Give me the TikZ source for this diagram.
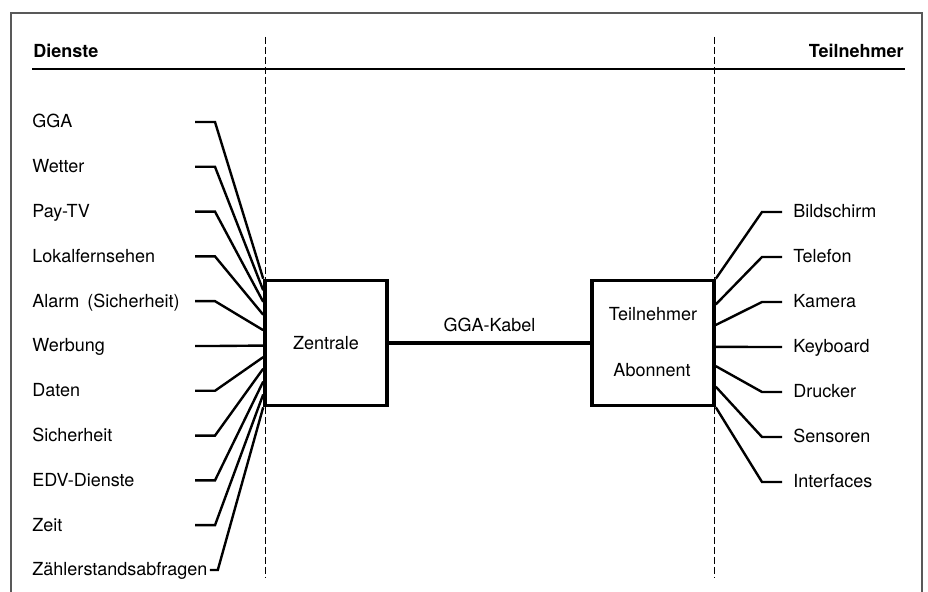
\documentclass[tikz,border=0pt]{standalone}
\usepackage{fontspec}
\setmainfont{TeX Gyre Heros}
\usetikzlibrary{calc}
\begin{document}
\begin{tikzpicture}[x=0.5pt,y=-0.5pt,
  lbl/.style={anchor=base west, inner sep=0pt, font=\fontsize{9pt}{10pt}\selectfont},
  hdr/.style={inner sep=0pt, font=\fontsize{9pt}{10pt}\selectfont\bfseries},
  conn/.style={line width=1.2pt, line join=miter},
  boxn/.style={draw, line width=1.8pt, minimum width=61pt, minimum height=62.5pt, inner sep=0pt,
    font=\fontsize{9pt}{10pt}\selectfont},
  frame/.style={draw=black!65, line width=0.6pt},
  sep/.style={dash pattern=on 3.5pt off 1.5pt, line width=0.5pt}]
\useasboundingbox (0,0) rectangle (928,592);
% frame
\draw[frame] (11,592) -- (11,13) -- (922,13) -- (922,592);
% headers
\node[hdr, anchor=base west] (dh) at (33,58) {Dienste};
\node[hdr, anchor=base east] (th) at (904,58) {Teilnehmer};
\draw[line width=1pt] (32,69) -- (905,69);
% separators
\draw[sep] (265,37) -- (265,578);
\draw[sep] (714.5,37) -- (714.5,578);
% boxes
\node[boxn] (zen) at (326,343) {Zentrale};
\node[boxn] (teil) at (653,343) {};
\node[lbl, anchor=base] (t1) at (653,321) {Teilnehmer};
\node[lbl, anchor=base] (t2) at (652,377) {Abonnent};
\draw[line width=1.8pt] (zen.east) -- (teil.west)
  node[midway, above=4.5pt, inner sep=0pt, font=\fontsize{9pt}{10pt}\selectfont] (kab) {GGA-Kabel};
% left services
\foreach \t/\f [count=\i from 0] in {GGA/0.0, Wetter/0.09, Pay-TV/0.18, Lokalfernsehen/0.28,
  Alarm\hspace{0.45em}(Sicherheit)/0.40, Werbung/0.52, Daten/0.61, Sicherheit/0.70,
  EDV-Dienste/0.80, Zeit/0.90}{
  \node[lbl] (l\i) at (32,{128+44.8*\i}) {\t};
  \coordinate (a\i) at (195,{122+44.8*\i});
  \draw[conn] (a\i) -- ++(20,0) -- ($(zen.north west)!\f!(zen.south west)$);
}
\node[lbl] (l10) at (32,576) {Zählerstandsabfragen};
\draw[conn] ([shift={(2,-6)}]l10.base east) -- ++(8,0) -- (zen.south west);
% right terminals
\foreach \t/\f [count=\i from 0] in {Bildschirm/0.0, Telefon/0.2, Kamera/0.36, Keyboard/0.53,
  Drucker/0.68, Sensoren/0.84, Interfaces/1.0}{
  \node[lbl] (r\i) at (793,{218+45*\i}) {\t};
  \coordinate (b\i) at (782,{212+45*\i});
  \draw[conn] (b\i) -- ++(-20,0) -- ($(teil.north east)!\f!(teil.south east)$);
}
\end{tikzpicture}
\end{document}
